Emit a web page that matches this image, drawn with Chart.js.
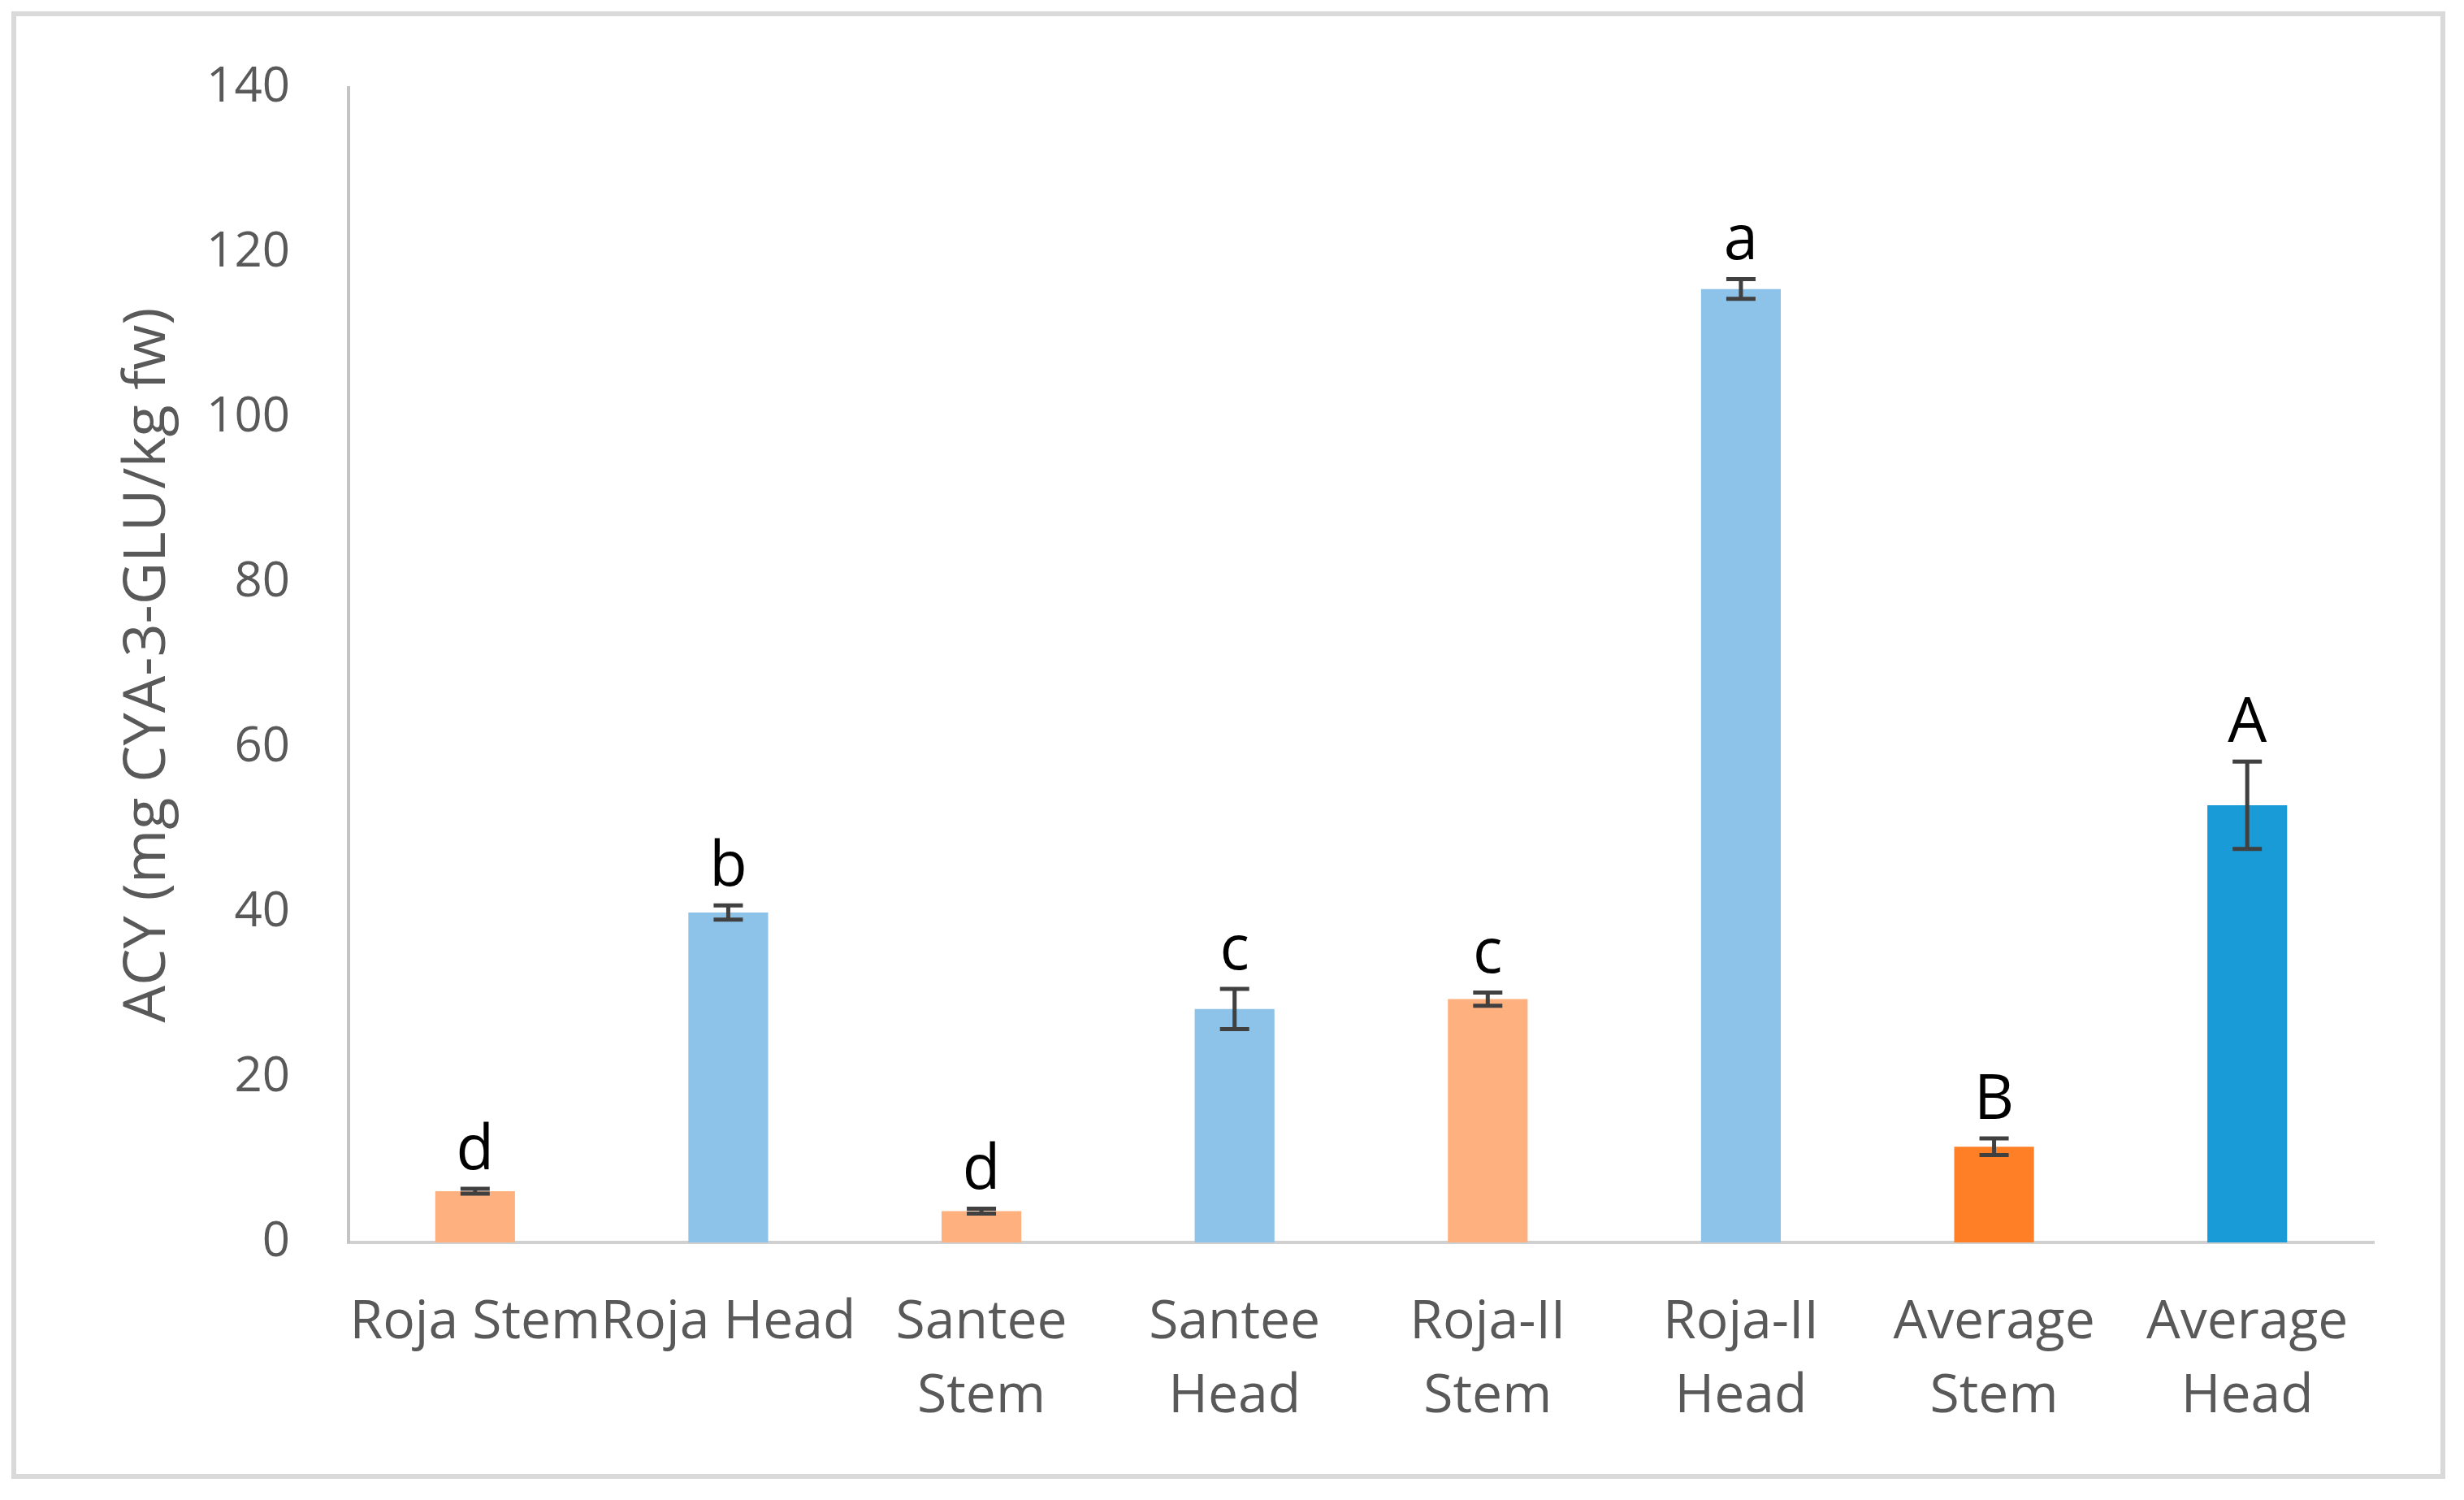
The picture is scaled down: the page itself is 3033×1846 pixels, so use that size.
<!DOCTYPE html>
<html>
<head>
<meta charset="utf-8">
<title>ACY content</title>
<script src="https://cdn.jsdelivr.net/npm/chart.js@4"></script>
<style>
  html, body { margin: 0; padding: 0; background: #fff; }
  canvas { display: block; }
</style>
</head>
<body>
<canvas id="acyChart" width="3033" height="1846"></canvas>
<script>
// data
const categories = [
  "Roja Stem",
  "Roja Head",
  ["Santee", "Stem"],
  ["Santee", "Head"],
  ["Roja-II", "Stem"],
  ["Roja-II", "Head"],
  ["Average", "Stem"],
  ["Average", "Head"],
];
const means = [6.2, 40.0, 3.8, 28.3, 29.5, 115.6, 11.6, 53.0];
const errors = [0.3, 0.85, 0.3, 2.45, 0.8, 1.2, 1.0, 5.3];
const letters = ["d", "b", "d", "c", "c", "a", "B", "A"];
const yTicks = [0, 20, 40, 60, 80, 100, 120, 140];

const barColors = [
  "#ffb07f",
  "#8dc3e8",
  "#ffb07f",
  "#8dc3e8",
  "#ffb07f",
  "#8dc3e8",
  "#ff7f26",
  "#189bd7",
];

// white page + light grey frame
const framePlugin = {
  id: "frame",
  beforeDraw(chart) {
    const ctx = chart.ctx;
    ctx.save();
    ctx.fillStyle = "#ffffff";
    ctx.fillRect(0, 0, chart.width, chart.height);
    ctx.strokeStyle = "#d9d9d9";
    ctx.lineWidth = 6;
    ctx.strokeRect(17, 17, chart.width - 43, chart.height - 46);
    ctx.restore();
  },
};

// error bars and significance letters
const errorPlugin = {
  id: "errorBars",
  afterDatasetsDraw(chart) {
    const ctx = chart.ctx;
    const y = chart.scales.y;
    const meta = chart.getDatasetMeta(0);
    ctx.save();
    ctx.strokeStyle = "#404040";
    ctx.lineWidth = 5;
    meta.data.forEach(function (bar, i) {
      const x = bar.x;
      const hi = y.getPixelForValue(means[i] + errors[i]);
      const lo = y.getPixelForValue(means[i] - errors[i]);
      ctx.beginPath();
      ctx.moveTo(x, hi);
      ctx.lineTo(x, lo);
      ctx.moveTo(x - 18, hi);
      ctx.lineTo(x + 18, hi);
      ctx.moveTo(x - 18, lo);
      ctx.lineTo(x + 18, lo);
      ctx.stroke();

      ctx.fillStyle = "#000000";
      ctx.font = "76px 'Open Sans'";
      ctx.textAlign = "center";
      ctx.textBaseline = "alphabetic";
      ctx.fillText(letters[i], x, hi - 24);
    });
    ctx.restore();
  },
};

const ctx = document.getElementById("acyChart").getContext("2d");
const acyChart = new Chart(ctx, {
  type: "bar",
  data: {
    labels: categories,
    datasets: [
      {
        label: "ACY",
        data: means,
        backgroundColor: barColors,
        borderWidth: 0,
        categoryPercentage: 1,
        barPercentage: 0.315,
      },
    ],
  },
  options: {
    responsive: false,
    animation: false,
    devicePixelRatio: 1,
    layout: {
      padding: { top: 108, right: 111, left: 0, bottom: 0 },
    },
    plugins: {
      legend: { display: false },
      tooltip: { enabled: false },
    },
    scales: {
      x: {
        offset: true,
        grid: { display: false },
        border: { display: true, color: "#d0d0d0", width: 4 },
        ticks: {
          color: "#595959",
          font: { family: "'Open Sans'", size: 66, lineHeight: 1.38 },
          padding: 46,
          maxRotation: 0,
          minRotation: 0,
          autoSkip: false,
        },
        afterFit(scale) {
          scale.height = 317;
        },
      },
      y: {
        min: 0,
        max: 140,
        grid: { display: false },
        border: { display: true, color: "#c4c4c4", width: 4 },
        afterBuildTicks(scale) {
          scale.ticks = yTicks.map(function (v) {
            return { value: v };
          });
        },
        ticks: {
          color: "#595959",
          font: { family: "'Open Sans'", size: 60 },
          padding: 64,
        },
        title: {
          display: true,
          text: "ACY (mg CYA-3-GLU/kg fw)",
          color: "#595959",
          font: { family: "'Open Sans'", size: 72 },
          padding: { top: 139, bottom: 0 },
        },
        afterFit(scale) {
          scale.width = 429;
        },
      },
    },
  },
  plugins: [framePlugin, errorPlugin],
});
</script>
</body>
</html>
